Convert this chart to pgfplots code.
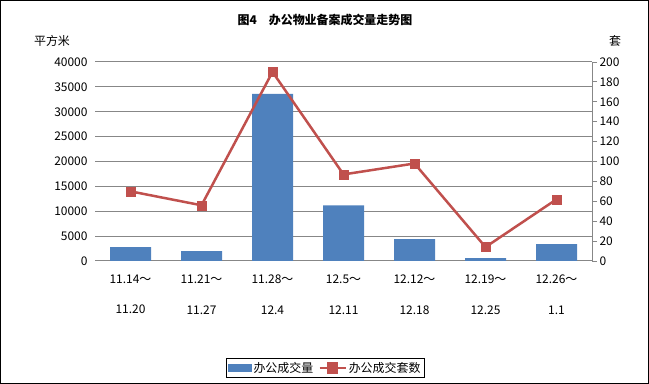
\documentclass[border=0pt]{standalone}
\usepackage{pgfplots}
\pgfplotsset{compat=1.18}
\usepackage{fontspec}
\setmainfont{Noto Sans CJK SC}
\definecolor{barblue}{HTML}{4F81BD}
\definecolor{linered}{HTML}{C0504D}
\definecolor{gridgray}{HTML}{878787}
\pgfplotsset{common/.style={
  at={(95bp,123bp)}, anchor=south west, scale only axis,
  width=497bp, height=199bp,
  xmin=-0.5, xmax=6.5, ymin=0,
  /pgf/number format/assume math mode=true,
}}
\begin{document}
\begin{tikzpicture}
\draw[black, line width=1.2bp] (0.6bp,0.6bp) rectangle (648.4bp,383.4bp);
\node[font=\bfseries\fontsize{12}{14}\selectfont] at (325bp,364bp) {图4\quad 办公物业备案成交量走势图};
\node[font=\fontsize{12}{14}\selectfont] at (52bp,343bp) {平方米};
\node[font=\fontsize{12}{14}\selectfont] at (615bp,343bp) {套};
\begin{axis}[common,
  ymax=40000,
  ytick={0,5000,...,40000},
  scaled y ticks=false,
  yticklabel style={/pgf/number format/1000 sep={}, font=\fontsize{12}{14}\selectfont, xshift=-4bp},
  ymajorgrids, grid style={gridgray, line width=1bp},
  axis line style={draw=none},
  major tick length=0pt,
  xtick={0,...,6},
  xticklabels={11.14～\\[17bp]11.20, 11.21～\\[17bp]11.27, 11.28～\\[17bp]12.4, 12.5～\\[17bp]12.11, 12.12～\\[17bp]12.18, 12.19～\\[17bp]12.25, 12.26～\\[17bp]1.1},
  xticklabel style={align=center, font=\fontsize{12}{14}\selectfont, yshift=-10bp},
]
\addplot[ybar, bar width=41bp, fill=barblue, draw=none] coordinates {
(0,2800) (1,2000) (2,33600) (3,11200) (4,4400) (5,600) (6,3400)};
\end{axis}
\begin{axis}[common,
  ymax=200,
  ytick={0,20,...,200},
  axis x line=none, axis y line=right,
  y axis line style={gridgray, line width=1bp, -},
  ytick style={gridgray, line width=1bp},
  tick align=outside, major tick length=5bp,
  yticklabel style={font=\fontsize{12}{14}\selectfont, xshift=-1bp},
  legend columns=2,
  legend style={at={(0.463,-0.538)}, anchor=center, draw=black, line width=0.8bp,
    font=\fontsize{12}{14}\selectfont, inner sep=1.5bp,
    /tikz/every even column/.append style={column sep=3bp}},
]
\addlegendimage{legend image code/.code={\fill[barblue] (0bp,-3.5bp) rectangle (23bp,3.5bp);}}
\addlegendentry{办公成交量}
\addplot[linered, line width=2.5bp, mark=square*, mark size=4.5bp,
  mark options={fill=linered, draw=linered, line width=0.5bp},
  legend image code/.code={\draw[linered, line width=2.5bp] (0bp,0bp) -- (26bp,0bp);
    \fill[linered] (8.5bp,-4.5bp) rectangle (17.5bp,4.5bp);}]
 coordinates {(0,70) (1,56) (2,190) (3,87) (4,98) (5,14) (6,62)};
\addlegendentry{办公成交套数}
\end{axis}
\end{tikzpicture}
\end{document}
